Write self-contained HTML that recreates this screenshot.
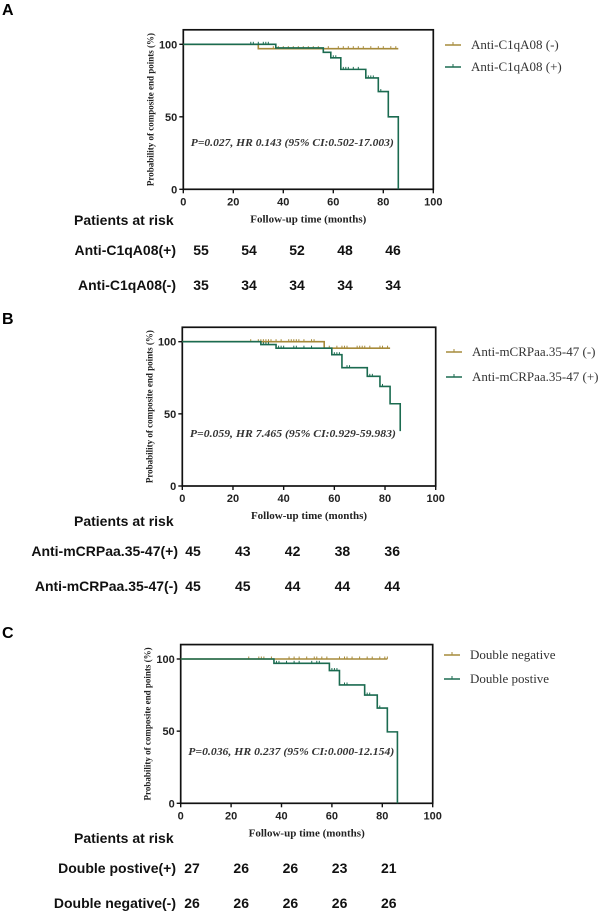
<!DOCTYPE html>
<html><head><meta charset="utf-8"><style>
body{margin:0;background:#fff;width:614px;height:913px;overflow:hidden}
svg{display:block}
.sans{font-family:"Liberation Sans",sans-serif;font-weight:bold}
.serif{font-family:"Liberation Serif",serif}
</style></head><body>
<svg id="c" width="614" height="913"></svg>
<script>
// Panel A data
const aPosTimes=[0,37,56,59,63,73,78,82,86];
const aPosSurv=[100,97.5,94.5,90.7,82.7,76.8,67.4,50,0];
const aPosCens=[27,28,30,32,33,34,60,61,64,65,66,68,70,74,75,76,79];
const aNegTimes=[0,30,86];
const aNegSurv=[100,97,97];
const aNegCens=[36,38,40,42,44,46,48,50,52,54,58,62,64,66,68,70,72,75,78,80,83,85];
// Panel B data
const bPosTimes=[0,31,37,59,63,73,78,82,86];
const bPosSurv=[100,98,95.5,91,82,76,69,57,38];
const bPosCens=[32,33,34,38,39,40,44,45,48,51,60,61,62,65,66,73,74,75,79];
const bNegTimes=[0,56,82];
const bNegSurv=[100,95.5,95.5];
const bNegCens=[27,30,31,32,33,34,35,37,39,42,43,44,45,46,48,51,52,58,61,63,64,65,69,70,71,72,74,78,79,81];
// Panel C data
const cPosTimes=[0,37,59,63,73,78,82,86];
const cPosSurv=[100,97,92,82,75,66,49.5,0];
const cPosCens=[38,39,42,45,47,52,54,55,60,61,62,65,66,73,74,75,79];
const cNegTimes=[0,82];
const cNegSurv=[100,100];
const cNegCens=[27,31,32,33,36,43,45,47,50,53,54,56,58,63,65,66,68,71,74,76,79,81,82];
const xTicks=[0,20,40,60,80,100];
const yTicks=[0,50,100];
const riskA1=[55,54,52,48,46], riskA2=[35,34,34,34,34];
const riskB1=[45,43,42,38,36], riskB2=[45,45,44,44,44];
const riskC1=[27,26,26,23,21], riskC2=[26,26,26,26,26];

const NS='http://www.w3.org/2000/svg';
const svg=document.getElementById('c');
function el(tag,attrs,parent,txt){const e=document.createElementNS(NS,tag);for(const k in attrs)e.setAttribute(k,attrs[k]);if(txt!==undefined)e.textContent=txt;(parent||svg).appendChild(e);return e;}
const TAN='#a68a3a',GRN='#1b6b50';

function panel(p){
  const g=el('g',{});
  
  
  const X=v=>p.x0+(p.x1-p.x0)*v/100;
  const Y=v=>p.y0-(p.y0-p.y100)*v/100;
  const t=el('text',{x:2,y:p.labelY,'font-size':16,class:'sans'},g,p.id);
   
  const fr=el('rect',{x:X(0),y:Y(110),width:X(100)-X(0),height:Y(0)-Y(110),fill:'none',stroke:'#111','stroke-width':1.7},g);
   
  xTicks.forEach(v=>{
    el('line',{x1:X(v),x2:X(v),y1:Y(0),y2:Y(0)+4,stroke:'#111','stroke-width':1.4},g);
    const tl=el('text',{x:X(v),y:Y(0)+16,'font-size':11,'text-anchor':'middle',class:'sans',fill:'#222'},g,v);
     
  });
  yTicks.forEach(v=>{
    el('line',{x1:X(0)-4,x2:X(0),y1:Y(v),y2:Y(v),stroke:'#111','stroke-width':1.4},g);
    const tl=el('text',{x:X(0)-6,y:Y(v)+4,'font-size':11,'text-anchor':'end',class:'sans',fill:'#222'},g,v);
     
  });
  const yt=el('text',{transform:`translate(${X(0)-30},${(Y(0)+Y(110))/2}) rotate(-90)`,'font-size':9,'text-anchor':'middle',class:'serif','font-weight':'bold',fill:'#222'},g,'Probability of composite end points (%)');
   
  const xt=el('text',{x:(X(0)+X(100))/2,y:Y(0)+33,'font-size':11,'text-anchor':'middle',class:'serif','font-weight':'bold',fill:'#222'},g,'Follow-up time (months)');
   
  function curve(times,surv,cens,color,name){
    let d='M'+X(times[0])+','+Y(surv[0]);
    for(let i=1;i<times.length;i++){d+=' H'+X(times[i])+' V'+Y(surv[i]);}
    const pth=el('path',{d:d,fill:'none',stroke:color,'stroke-width':1.6},g);
     
    cens.forEach(c=>{
      let s=surv[0];for(let i=0;i<times.length;i++){if(times[i]<=c)s=surv[i];}
      const m=el('line',{x1:X(c),x2:X(c),y1:Y(s)-2.5,y2:Y(s),stroke:color,'stroke-width':1},g);
       
    });
  }
  curve(p.negT,p.negS,p.negC,TAN,'negative');
  curve(p.posT,p.posS,p.posC,GRN,'positive');
  const an=el('text',{x:X(3),y:p.annY,'font-size':11,textLength:p.annW,lengthAdjust:'spacingAndGlyphs',class:'serif','font-weight':'bold','font-style':'italic',fill:'#333'},g,p.ann);
   
  [[p.leg1,TAN,p.legY],[p.leg2,GRN,p.legY+p.legGap]].forEach(([txt,col,y],i)=>{
    const lg=el('g',{},g);
     
    el('line',{x1:p.legX,x2:p.legX+16,y1:y,y2:y,stroke:col,'stroke-width':1.5},lg);
    el('line',{x1:p.legX+8,x2:p.legX+8,y1:y-3,y2:y,stroke:col,'stroke-width':1},lg);
    el('text',{x:p.legX+26,y:y+4,'font-size':13,class:'serif',fill:'#333'},lg,txt);
  });
  const pr=el('text',{x:74,y:p.riskY+5,'font-size':14,class:'sans',fill:'#111'},g,'Patients at risk');
   
  [[p.r1lab,p.r1,p.riskY+30],[p.r2lab,p.r2,p.riskY+65]].forEach(([lab,vals,y])=>{
    const l=el('text',{x:p.labX,y:y+5,'font-size':14,'text-anchor':'end',class:'sans',fill:'#111'},g,lab);
     
    vals.forEach((v,i)=>{
      const n=el('text',{x:p.numX+i*p.numDx,y:y+5,'font-size':14,'text-anchor':'middle',class:'sans',fill:'#111'},g,v);
       
    });
  });
}
panel({id:'A',labelY:15,x0:183.3,x1:433.3,y0:189.3,y100:44.3,posT:aPosTimes,posS:aPosSurv,posC:aPosCens,negT:aNegTimes,negS:aNegSurv,negC:aNegCens,
  ann:'P=0.027, HR 0.143 (95% CI:0.502-17.003)',annW:203,annY:146,leg1:'Anti-C1qA08 (-)',leg2:'Anti-C1qA08 (+)',legX:445,legY:45,legGap:22,
  riskY:220,r1lab:'Anti-C1qA08(+)',r2lab:'Anti-C1qA08(-)',labX:176,numX:201,numDx:48,r1:riskA1,r2:riskA2});
panel({id:'B',labelY:324,x0:182.3,x1:435.7,y0:486,y100:341.7,posT:bPosTimes,posS:bPosSurv,posC:bPosCens,negT:bNegTimes,negS:bNegSurv,negC:bNegCens,
  ann:'P=0.059, HR 7.465 (95% CI:0.929-59.983)',annW:206,annY:437,leg1:'Anti-mCRPaa.35-47 (-)',leg2:'Anti-mCRPaa.35-47 (+)',legX:446,legY:352,legGap:25,
  riskY:521,r1lab:'Anti-mCRPaa.35-47(+)',r2lab:'Anti-mCRPaa.35-47(-)',labX:178,numX:193,numDx:49.8,r1:riskB1,r2:riskB2});
panel({id:'C',labelY:638,x0:180.7,x1:432.7,y0:803.3,y100:659,posT:cPosTimes,posS:cPosSurv,posC:cPosCens,negT:cNegTimes,negS:cNegSurv,negC:cNegCens,
  ann:'P=0.036, HR 0.237 (95% CI:0.000-12.154)',annW:206,annY:755,leg1:'Double negative',leg2:'Double postive',legX:444,legY:655,legGap:24,
  riskY:838,r1lab:'Double postive(+)',r2lab:'Double negative(-)',labX:176,numX:192,numDx:49.2,r1:riskC1,r2:riskC2});
</script>
</body></html>
